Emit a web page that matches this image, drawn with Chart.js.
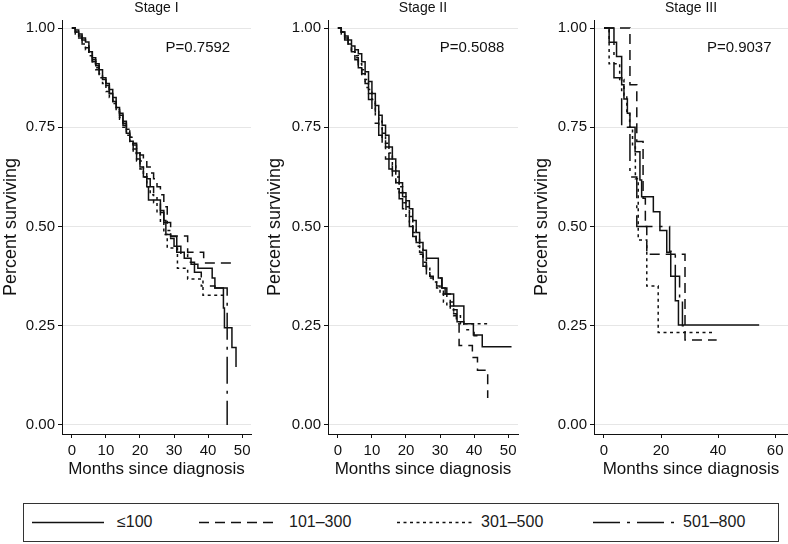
<!DOCTYPE html>
<html>
<head>
<meta charset="utf-8">
<script src="https://cdn.jsdelivr.net/npm/chart.js@4.4.1/dist/chart.umd.min.js"></script>
<style>
  body { margin: 0; background: #fff; font-family: "Liberation Sans", Arial, sans-serif; }
  #wrap { position: relative; width: 788px; height: 544px; overflow: hidden; }
  canvas { position: absolute; top: 0; }
  #legend { position: absolute; left: 23px; top: 503px; width: 754px; height: 37px; border: 1px solid #333; }
  #legend svg { position: absolute; top: 0; left: 0; }
  #legend span { position: absolute; top: 9px; font-size: 16px; color: #1a1a1a; }
</style>
</head>
<body>
<div id="wrap">
  <canvas id="stage1" width="262" height="480" style="left:0"></canvas>
  <canvas id="stage2" width="262" height="480" style="left:262px"></canvas>
  <canvas id="stage3" width="264" height="480" style="left:524px"></canvas>
  <div id="legend"></div>
</div>
<script>
// ---- data (months since diagnosis, survival proportion) ----
const stageTitles = ['Stage I', 'Stage II', 'Stage III'];
const pValues = ['P=0.7592', 'P=0.5088', 'P=0.9037'];
const groupLabels = ['≤100', '101–300', '301–500', '501–800'];
const survTicks = [0, 0.25, 0.5, 0.75, 1];
const monthTicksI = [0, 10, 20, 30, 40, 50];
const monthTicksII = [0, 10, 20, 30, 40, 50];
const monthTicksIII = [0, 20, 40, 60];

const stageI_100 = [[0,1],[1,0.99],[2,0.985],[3,0.975],[4,0.965],[5,0.94],[6,0.925],[7,0.91],[8,0.895],[9,0.875],
  [10,0.86],[11,0.845],[12,0.825],[13,0.8],[14,0.78],[15,0.755],[16,0.735],[17,0.715],[18,0.695],[19,0.67],
  [20,0.65],[21,0.625],[22,0.6],[22.5,0.567],[26,0.54],[27,0.515],[27.6,0.48],[29,0.475],
  [30.8,0.435],[33,0.42],[35,0.405],[37,0.395],[41.2,0.37],[42,0.345],[44.5,0.295],[44.8,0.245],[47,0.195],[48.2,0.146]];
const stageI_300 = [[0,1],[1,0.985],[2,0.975],[3,0.96],[4,0.95],[5,0.93],[6,0.915],[7,0.9],[8,0.885],[9,0.87],
  [10,0.85],[11,0.835],[12,0.815],[13,0.795],[14,0.775],[15,0.76],[16,0.745],[17,0.725],[18,0.71],[19,0.695],
  [20,0.68],[21,0.665],[22,0.65],[23,0.635],[24,0.62],[25,0.6],[26,0.58],[27,0.55],[28,0.51],[29,0.476],
  [34,0.435],[38.7,0.408],[48.2,0.408]];
const stageI_500 = [[0,1],[1,0.99],[2,0.975],[3,0.96],[4,0.945],[5,0.93],[6,0.91],[7,0.895],[8,0.875],[9,0.86],
  [10,0.84],[11,0.825],[12,0.81],[13,0.79],[14,0.77],[15,0.75],[16,0.73],[17,0.71],[18,0.685],[19,0.665],
  [20,0.645],[21,0.625],[22,0.6],[23,0.58],[24,0.56],[25,0.535],[26,0.51],[27,0.48],[28,0.446],[31,0.395],
  [34,0.368],[38.5,0.327],[45,0.327]];
const stageI_800 = [[0,1],[1,0.995],[2,0.98],[3,0.97],[4,0.955],[5,0.94],[6,0.92],[7,0.905],[8,0.885],[9,0.87],
  [10,0.855],[11,0.835],[12,0.815],[13,0.8],[14,0.785],[15,0.765],[16,0.745],[17,0.725],[18,0.705],[19,0.685],
  [20,0.665],[21,0.645],[22,0.62],[23,0.6],[24,0.58],[25,0.56],[26,0.535],[27,0.51],[28,0.49],[29,0.47],
  [30,0.45],[32,0.43],[34,0.41],[36,0.385],[38,0.35],[42,0.345],[45.6,0]];

const stageII_100 = [[0,1],[1,0.99],[2,0.98],[3,0.97],[4,0.955],[5,0.945],[6,0.935],[7,0.915],[8,0.89],[9,0.865],
  [10,0.835],[11,0.805],[12,0.78],[13,0.755],[14,0.73],[15,0.7],[16,0.67],[17,0.64],[18,0.61],[19,0.585],
  [20,0.565],[21,0.545],[22,0.515],[23,0.485],[24,0.46],[25,0.44],[26,0.42],[29.5,0.37],[30.5,0.345],[32,0.33],
  [34,0.3],[37,0.255],[39.8,0.227],[42.4,0.197],[51,0.197]];
const stageII_300 = [[0,1],[1,0.985],[2,0.97],[3,0.955],[4,0.94],[5,0.925],[6,0.905],[7,0.885],[8,0.86],[9,0.835],
  [10,0.81],[11,0.78],[12,0.75],[13,0.725],[14,0.7],[15,0.67],[16,0.64],[17,0.61],[18,0.585],[19,0.56],
  [20,0.535],[21,0.51],[22,0.485],[23,0.46],[24,0.435],[25,0.41],[26,0.39],[27,0.375],[28,0.36],[29,0.35],
  [30,0.34],[31,0.33],[32,0.32],[33,0.3],[34,0.28],[34.8,0.255],[35.6,0.2],[39.5,0.17],[41,0.138],[44,0.068]];
const stageII_500 = [[0,1],[1,0.99],[2,0.975],[3,0.96],[4,0.945],[5,0.93],[6,0.91],[7,0.895],[8,0.87],[9,0.845],
  [10,0.82],[11,0.79],[12,0.765],[13,0.735],[14,0.71],[15,0.685],[16,0.655],[17,0.625],[18,0.6],[19,0.575],
  [20,0.55],[21,0.525],[22,0.495],[23,0.47],[24,0.445],[25,0.42],[26,0.395],[27,0.375],[28,0.36],[29,0.345],
  [30,0.33],[31,0.31],[32,0.3],[33,0.29],[34,0.275],[36,0.255],[44.5,0.255]];
const stageII_800 = [[0,1],[1,0.99],[2,0.975],[3,0.96],[4,0.94],[5,0.92],[6,0.9],[7,0.875],[8,0.85],[9,0.82],
  [10,0.79],[11,0.76],[12,0.73],[13,0.7],[14,0.67],[15,0.645],[16,0.62],[17,0.595],[18,0.57],[19,0.545],
  [20,0.52],[21,0.5],[22,0.475],[23,0.45],[24,0.43],[25,0.4],[26,0.37],[30.6,0.345],[31.5,0.33],[33,0.31],
  [34,0.29],[35,0.26],[37,0.24],[40,0.225],[41,0.225]];

const stageIII_100 = [[0,1],[1.8,0.964],[4.4,0.928],[6.2,0.857],[7,0.821],[8.2,0.785],[9.1,0.75],[10.9,0.688],
  [12.6,0.617],[13.2,0.575],[17.3,0.537],[19.6,0.49],[22,0.435],[23.4,0.375],[25,0.313],[26.1,0.252],[54.4,0.252]];
const stageIII_300 = [[0,1],[9.1,0.857],[11.5,0.714],[13.7,0.571],[14.5,0.5],[15,0.43],[28.4,0.214],[39.5,0.214]];
const stageIII_500 = [[0,1],[1.8,0.91],[5.5,0.87],[7,0.83],[8,0.79],[9,0.75],[10,0.7],[11,0.62],[12,0.466],
  [15,0.35],[19,0.233],[38.6,0.233]];
const stageIII_800 = [[0,1],[3.5,0.875],[6.2,0.75],[9.1,0.625],[11.5,0.5],[23,0.4375],[25,0.375],[26.5,0.3125],
  [27.5,0.25],[28,0.25]];

const dashes = [[], [10, 6], [3, 3.5], [27, 7, 3, 7]];
const ink = '#111';
const fontFam = '"Liberation Sans", Arial, sans-serif';

const pLabel = {
  id: 'pLabel',
  afterDatasetsDraw(chart, args, opts) {
    const {ctx, scales} = chart;
    ctx.save();
    ctx.font = '15px ' + fontFam;
    ctx.fillStyle = ink;
    ctx.textAlign = 'center';
    ctx.textBaseline = 'middle';
    ctx.fillText(opts.text, scales.x.getPixelForValue(opts.x), scales.y.getPixelForValue(opts.y));
    ctx.restore();
  }
};

function makePanel(id, title, pText, pX, series, xTicks, xMin, xMax, yWidth, padRight, yTitlePad) {
  const ctx = document.getElementById(id).getContext('2d');
  return new Chart(ctx, {
    type: 'line',
    data: {
      datasets: series.map((pts, i) => ({
        label: groupLabels[i],
        data: pts.map(p => ({x: p[0], y: p[1]})),
        stepped: true,
        borderColor: ink,
        borderWidth: 1.5,
        borderDash: dashes[i],
        pointRadius: 0,
        fill: false
      }))
    },
    options: {
      responsive: false,
      animation: false,
      layout: { padding: { left: 0, right: padRight, top: 0, bottom: 0 } },
      plugins: {
        legend: { display: false },
        tooltip: { enabled: false },
        title: {
          display: true,
          text: title,
          fullSize: false,
          color: ink,
          font: { family: fontFam, size: 14, weight: 'normal' },
          padding: { top: 0, bottom: 3.2 }
        },
        pLabel: { text: pText, x: pX, y: 0.95 }
      },
      scales: {
        x: {
          type: 'linear',
          min: xMin,
          max: xMax,
          afterBuildTicks: s => { s.ticks = xTicks.map(v => ({value: v})); },
          afterFit: s => { s.height = 46; },
          grid: { drawOnChartArea: false, tickLength: 4, tickColor: ink },
          border: { color: ink, width: 1 },
          ticks: { color: ink, padding: 4, font: { family: fontFam, size: 15 } },
          title: {
            display: true,
            text: 'Months since diagnosis',
            color: ink,
            font: { family: fontFam, size: 17 },
            padding: { top: 0, bottom: 0 }
          }
        },
        y: {
          min: -0.0227,
          max: 1.0202,
          afterBuildTicks: s => { s.ticks = survTicks.map(v => ({value: v})); },
          afterFit: s => { s.width = yWidth; },
          grid: { color: '#e6e6e6', tickLength: 4, tickColor: ink },
          border: { color: ink, width: 1 },
          ticks: {
            color: ink, padding: 3,
            font: { family: fontFam, size: 15 },
            callback: v => Number(v).toFixed(2)
          },
          title: {
            display: true,
            text: 'Percent surviving',
            color: ink,
            font: { family: fontFam, size: 18 },
            padding: { top: yTitlePad, bottom: 0 }
          }
        }
      }
    },
    plugins: [pLabel]
  });
}

makePanel('stage1', stageTitles[0], pValues[0], 37, [stageI_100, stageI_300, stageI_500, stageI_800],
  monthTicksI, -2.9, 52.6, 62, 11, 0);
makePanel('stage2', stageTitles[1], pValues[1], 39.4, [stageII_100, stageII_300, stageII_500, stageII_800],
  monthTicksII, -2.9, 52.9, 66, 6, 2);
makePanel('stage3', stageTitles[2], pValues[2], 47.4, [stageIII_100, stageIII_300, stageIII_500, stageIII_800],
  monthTicksIII, -3.5, 64.5, 70, 0, 7);

// legend below the panels
const legend = document.getElementById('legend');
const lineSpans = [[32, 104], [199, 277], [397, 475], [593, 676]];
const textLeft = [117, 289, 481, 683];
let svg = '<svg width="754" height="37">';
lineSpans.forEach((s, i) => {
  svg += '<line x1="' + (s[0] - 24) + '" x2="' + (s[1] - 24) + '" y1="18.5" y2="18.5" stroke="' + ink +
    '" stroke-width="1.3" stroke-dasharray="' + (dashes[i].length ? dashes[i].join(' ') : 'none') + '"/>';
});
svg += '</svg>';
legend.innerHTML = svg + groupLabels.map((g, i) =>
  '<span style="left:' + (textLeft[i] - 24) + 'px">' + g + '</span>').join('');
</script>
</body>
</html>
